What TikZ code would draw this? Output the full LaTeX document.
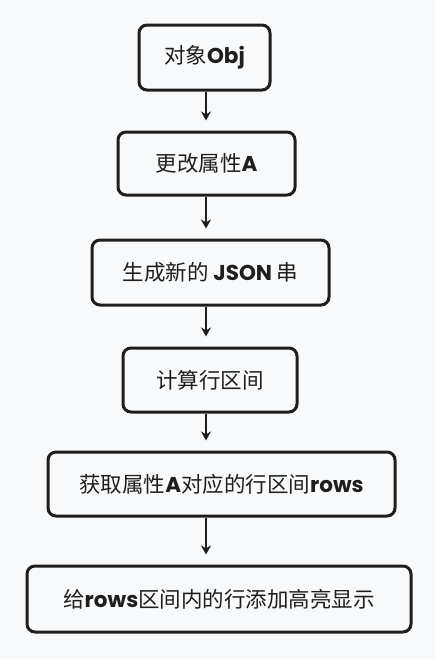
\documentclass[tikz,border=0pt]{standalone}
\usepackage{fontspec}
\setmainfont{Noto Sans CJK SC}
\newfontfamily\lat{Poppins}
\usetikzlibrary{arrows.meta}
\definecolor{bg}{HTML}{F8F9FA}
\definecolor{ink}{HTML}{1E1E1E}
\newcommand{\lt}[1]{{\lat\bfseries #1}}
\tikzset{
  box/.style={draw=ink, line width=3pt, rounded corners=8pt, fill=bg,
    font=\fontsize{21.5}{25}\selectfont, text=ink, inner sep=0pt, anchor=center},
  flow/.style={draw=ink, line width=2.8pt, -{Stealth[length=9pt,width=10pt]}, shorten >=10pt}
}
\begin{document}
\begin{tikzpicture}[x=1pt,y=-1pt]
\fill[bg] (0,0) rectangle (435,659);
\useasboundingbox (0,0) rectangle (435,659);
\node[box, minimum width=131pt, minimum height=65pt] (b1) at (204.5,57.5) {对象\lt{Obj}};
\node[box, minimum width=177pt, minimum height=63pt] (b2) at (206.5,163.5) {更改属性\lt{A}};
\node[box, minimum width=237pt, minimum height=65pt] (b3) at (210.5,272.5) {生成新的 \lt{JSON} 串};
\node[box, minimum width=174pt, minimum height=64pt] (b4) at (210,380) {计算行区间};
\node[box, minimum width=347pt, minimum height=64pt] (b5) at (221.5,484) {获取属性\lt{A}对应的行区间\lt{rows}};
\node[box, minimum width=384pt, minimum height=66pt] (b6) at (219,599) {给\lt{rows}区间内的行添加高亮显示};
\coordinate (ax) at (206,0);
\draw[flow] (b1.south -| ax) -- (b2.north -| ax);
\draw[flow] (b2.south -| ax) -- (b3.north -| ax);
\draw[flow] (b3.south -| ax) -- (b4.north -| ax);
\draw[flow] (b4.south -| ax) -- (b5.north -| ax);
\draw[flow] (b5.south -| ax) -- (b6.north -| ax);
\end{tikzpicture}
\end{document}
